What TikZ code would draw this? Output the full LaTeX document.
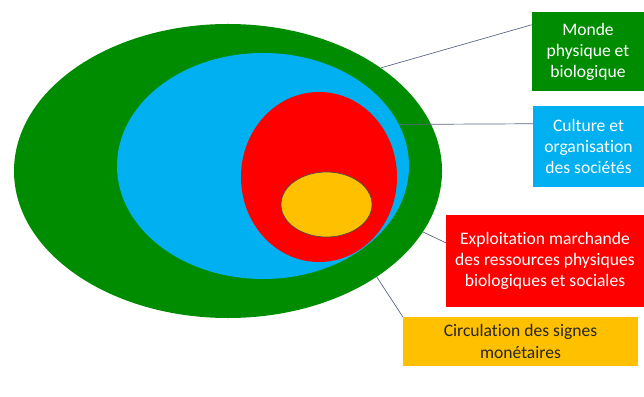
\documentclass[tikz,border=0pt]{standalone}
\usepackage{fontspec}
\setmainfont{Carlito}[Ligatures=NoCommon]
\usetikzlibrary{shapes.geometric}
\pgfdeclarelayer{bg}
\pgfsetlayers{bg,main}

\definecolor{cgreen}{RGB}{0,140,0}
\definecolor{cblue}{RGB}{0,176,240}
\definecolor{cred}{RGB}{255,0,0}
\definecolor{cyellow}{RGB}{255,192,0}
\definecolor{cline}{RGB}{90,102,135}

\begin{document}
\begin{tikzpicture}[
  x=0.03cm, y=-0.03cm,
  zone/.style={ellipse, inner sep=0pt},
  tag/.style={inner sep=0pt, align=center, font=\fontsize{15}{18}\selectfont},
  lnk/.style={draw=cline, line width=0.6pt},
]

\useasboundingbox (0,0) rectangle (644,397);

\node [zone, fill=cgreen, minimum width=12.84cm, minimum height=8.82cm] (monde) at (228,171) {};
\node [zone, fill=cblue, minimum width=8.76cm, minimum height=6.78cm] (culture) at (263,166) {};
\node [zone, fill=cred, minimum width=4.68cm, minimum height=5.1cm] (exploit) at (319,177) {};
\node [zone, fill=cyellow, draw=black!70, line width=0.6pt, minimum width=2.73cm, minimum height=1.95cm] (signes) at (326.5,204.5) {};

\node [tag, fill=cgreen, text=white, minimum width=3.36cm, minimum height=2.37cm] (mondebox) at (588,51.5) {Monde\\physique et\\biologique};
\node [tag, fill=cblue, text=white, minimum width=3.33cm, minimum height=2.43cm] (culturebox) at (588.5,146.5) {Culture et\\organisation\\des sociétés};
\node [tag, fill=cred, text=white, minimum width=5.94cm, minimum height=2.76cm] (exploitbox) at (545,261) {Exploitation marchande\\des ressources physiques\\biologiques et sociales};
\node [tag, fill=cyellow, text=black!85, minimum width=7.05cm, minimum height=1.47cm] (signesbox) at (520.5,341.5) {Circulation des signes\\monétaires};

\draw [lnk] (monde.34) -- ([yshift=-0.39cm]mondebox.north west);
\draw [lnk] (culture.17) -- ([yshift=-0.54cm]culturebox.north west);

\begin{pgfonlayer}{bg}
\draw [lnk] (exploit.-29) -- ([yshift=-0.84cm]exploitbox.north west);
\draw [lnk] (signes.-53) -- (signesbox.north west);
\end{pgfonlayer}

\end{tikzpicture}
\end{document}
